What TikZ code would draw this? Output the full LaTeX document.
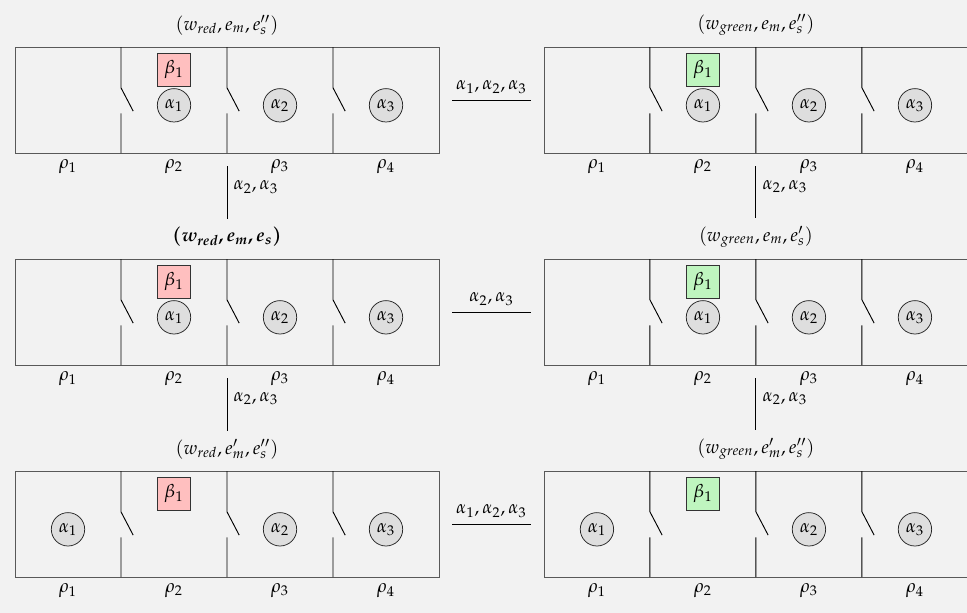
\documentclass[tikz,border=0pt]{standalone}
\usepackage{mathpazo}
\usepackage{xcolor}
\usepackage{tikz}
\usetikzlibrary{positioning, calc}
\definecolor{pagebackground}{RGB}{242, 242, 242}
\definecolor{betared}{RGB}{255, 191, 191}
\definecolor{betagreen}{RGB}{191, 245, 191}

% one configuration: #1 name, #2 shift, #3 colour of beta_1, #4 x of alpha_1, #5 label
\newcommand{\hallway}[5]{%
  \begin{scope}[shift={#2}]
    \node[hall] (#1) at (4,-1) {};
    \foreach \x in {2,4,6}
      \draw[divider] (\x,0) -- (\x,-0.77) -- (\x+0.23,-1.21) (\x,-1.25) -- (\x,-2);
    \node[beta, fill=#3] (#1-b1) at (3,-0.43) {$\beta_1$};
    \node[agent] (#1-a1) at (#4,-1.1) {$\alpha_1$};
    \node[agent] (#1-a2) at (5,-1.1) {$\alpha_2$};
    \node[agent] (#1-a3) at (7,-1.1) {$\alpha_3$};
    \foreach \i in {1,...,4}
      \node (#1-r\i) at (2*\i-1,-2.26) {$\rho_\i$};
    \node (#1-title) at (4,0.415) {#5};
  \end{scope}
}

\begin{document}
\begin{tikzpicture}[
    hall/.style={draw=black!65, minimum width=8cm, minimum height=2cm, inner sep=0pt},
    divider/.style={draw=black, line width=0.5pt},
    beta/.style={draw=black!80, minimum size=0.62cm, inner sep=0pt},
    agent/.style={draw=black!85, circle, fill=black!13, minimum size=0.63cm, inner sep=0pt},
    move/.style={draw=black, line width=0.5pt}
]
    \fill[pagebackground] (-0.283,0.887) rectangle (17.962,-10.679);
    \useasboundingbox (-0.283,0.887) rectangle (17.962,-10.679);

    % Left column (red)
    \hallway{ra}{(0,0)}{betared}{3}{$(w_{red},e_m,e''_s)$}
    \hallway{rb}{(0,-4)}{betared}{3}{{\boldmath$(w_{red},e_m,e_s)$}}
    \hallway{rc}{(0,-8)}{betared}{1}{$(w_{red},e'_m,e''_s)$}

    % Right column (green)
    \hallway{ga}{(9.98,0)}{betagreen}{3}{$(w_{green},e_m,e''_s)$}
    \hallway{gb}{(9.98,-4)}{betagreen}{3}{$(w_{green},e_m,e'_s)$}
    \hallway{gc}{(9.98,-8)}{betagreen}{1}{$(w_{green},e'_m,e''_s)$}

    % Vertical moves
    \draw[move, shorten <=0.245cm, shorten >=0.03cm] (ra.south) -- node[right] {$\alpha_2,\alpha_3$} (rb-title.north);
    \draw[move, shorten <=0.245cm, shorten >=0.03cm] (rb.south) -- node[right] {$\alpha_2,\alpha_3$} (rc-title.north);
    \draw[move, shorten <=0.245cm, shorten >=0.03cm] (ga.south) -- node[right] {$\alpha_2,\alpha_3$} (gb-title.north);
    \draw[move, shorten <=0.245cm, shorten >=0.03cm] (gb.south) -- node[right] {$\alpha_2,\alpha_3$} (gc-title.north);

    % Horizontal moves
    \draw[move, shorten <=0.24cm, shorten >=0.23cm] (ra.east) -- node[above] {$\alpha_1,\alpha_2,\alpha_3$} (ga.west);
    \draw[move, shorten <=0.24cm, shorten >=0.23cm] (rb.east) -- node[above] {$\alpha_2,\alpha_3$} (gb.west);
    \draw[move, shorten <=0.24cm, shorten >=0.23cm] (rc.east) -- node[above] {$\alpha_1,\alpha_2,\alpha_3$} (gc.west);
\end{tikzpicture}
\end{document}
